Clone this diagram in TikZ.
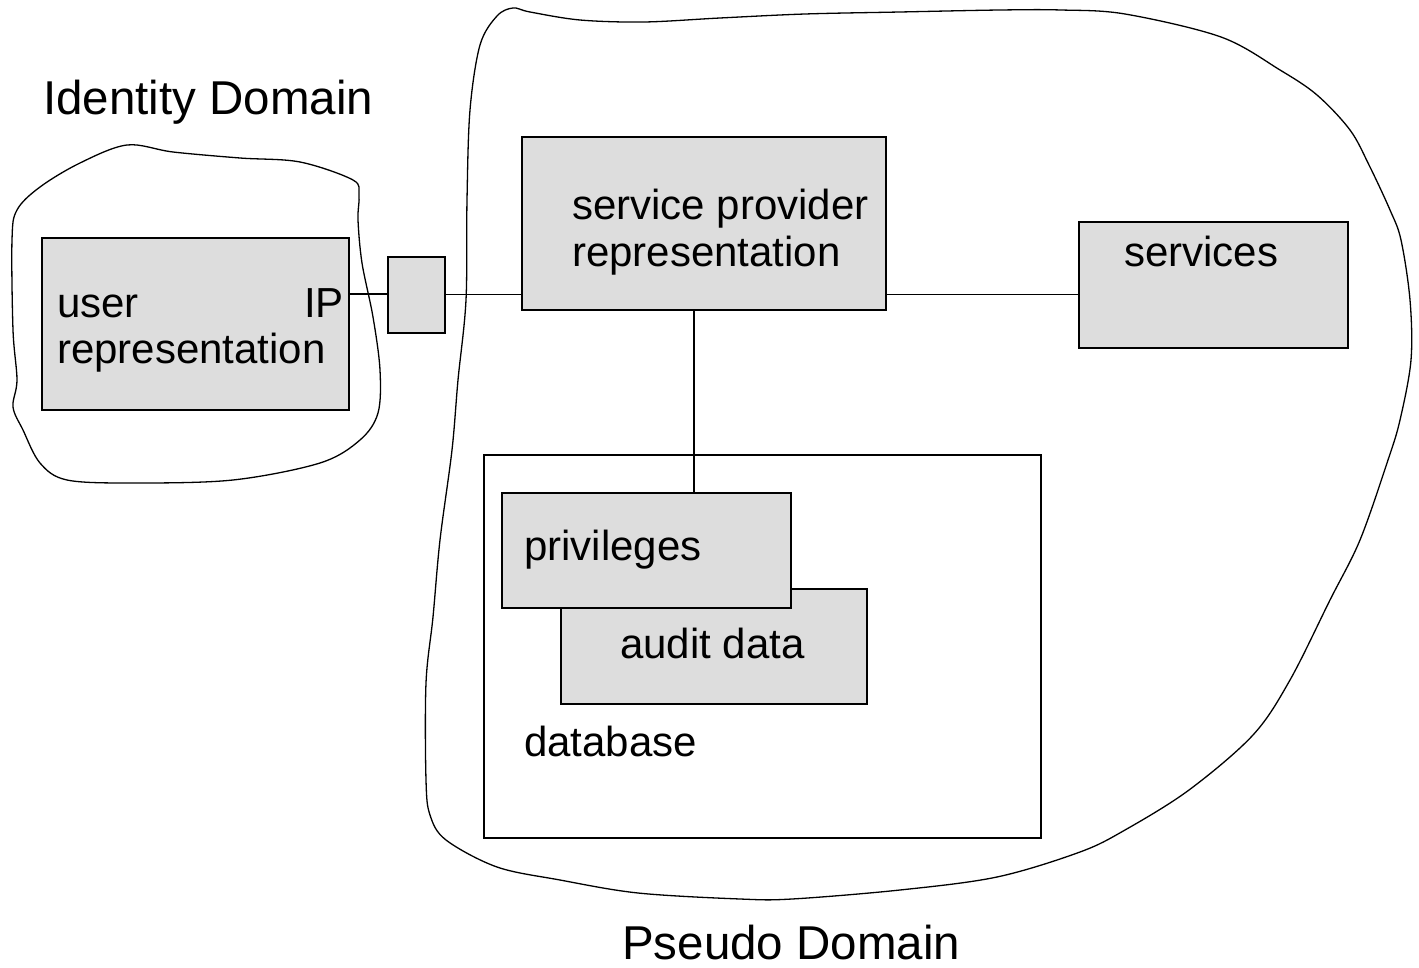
\documentclass[tikz,border=0pt]{standalone}
\usepackage{fontspec}
\setmainfont{Liberation Sans}
\definecolor{boxgray}{RGB}{221,221,221}
\begin{document}
\begin{tikzpicture}[x=1pt,y=-1pt,
  graybox/.style={draw=black, fill=boxgray, line width=1.6pt, inner sep=0pt, anchor=north west},
  plainbox/.style={draw=black, fill=white, line width=1.6pt, inner sep=0pt, anchor=north west},
  blob/.style={draw=black, line width=1.3pt},
  link/.style={draw=black, line width=1.4pt},
  txt/.style={inner sep=0pt, font=\fontsize{42}{48}\selectfont},
  bigtxt/.style={inner sep=0pt, font=\fontsize{47.5}{54}\selectfont}]
\useasboundingbox (0,0) rectangle (1419,968);
\fill[white] (0,0) rectangle (1419,968);

% Pseudo domain blob
\draw[blob] plot[smooth cycle, tension=0.55] coordinates {
 (497,16) (513,8) (530,12) (580,20) (644,22) (720,18) (805,14) (900,12)
 (1000,10) (1061,10) (1125,14) (1221,37) (1280,70) (1317,95) (1350,130)
 (1369,165) (1390,210) (1401,240) (1410,300) (1411,360) (1400,420) (1388,460)
 (1360,540) (1330,600) (1290,680) (1253,735) (1189,790) (1125,830) (1080,852)
 (997,877) (900,890) (792,899) (740,899) (638,893) (560,880) (497,867)
 (446,840) (430,815) (426,780) (426,683) (433,617) (440,540) (452,450)
 (458,380) (466,300) (467,200) (470,110) (480,45)};

% Identity domain blob
\draw[blob] plot[smooth cycle, tension=0.55] coordinates {
 (127,145) (173,152) (240,158) (300,162) (353,180) (359,195) (358,220)
 (362,263) (373,317) (380,370) (378,413) (360,440) (320,463) (233,480)
 (133,483) (67,480) (40,463) (23,430) (13,407) (17,380) (13,330)
 (12,240) (17,210) (40,187) (80,163)};

% Boxes
\node[graybox, minimum width=307pt, minimum height=172pt] (user) at (41,237) {};
\node[graybox, minimum width=57pt, minimum height=76pt] (ip) at (387,256) {};
\node[graybox, minimum width=364pt, minimum height=173pt] (sp) at (521,136) {};
\node[graybox, minimum width=269pt, minimum height=126pt] (svc) at (1078,221) {};
\node[plainbox, minimum width=557pt, minimum height=383pt] (db) at (483,454) {};
\node[graybox, minimum width=306pt, minimum height=115pt] (audit) at (560,588) {};
\node[graybox, minimum width=289pt, minimum height=115pt] (priv) at (501,492) {};

% Connectors
\coordinate (pipe) at (348,294);
\draw[link] (pipe) -- (pipe -| ip.west);
\draw[link] (ip.east) -- (ip.east -| sp.west);
\draw[link] (sp.east |- ip.east) -- (svc.west |- ip.east);
\coordinate (vx) at (694,0);
\draw[link] (vx |- sp.south) -- (vx |- priv.north);

% Texts
\node[txt, anchor=base west] (tuser) at (57,317) {user};
\node[txt, anchor=base east] (tip) at (344,317) {IP};
\node[txt, anchor=base west] (trep) at (57,363) {representation};
\node[txt, anchor=base west] (tsp1) at (572,220) {service provider};
\node[txt, anchor=base west] (tsp2) at (572,267) {representation};
\node[txt, anchor=base west] (tsvc) at (1124,267) {services};
\node[txt, anchor=base west] (tpriv) at (524,560) {privileges};
\node[txt, anchor=base west] (taud) at (620,658) {audit data};
\node[txt, anchor=base west] (tdb) at (524,756) {database};
\node[bigtxt, anchor=base west] (tid) at (43,115) {Identity Domain};
\node[bigtxt, anchor=base west] (tps) at (622,959) {Pseudo Domain};
\end{tikzpicture}
\end{document}
